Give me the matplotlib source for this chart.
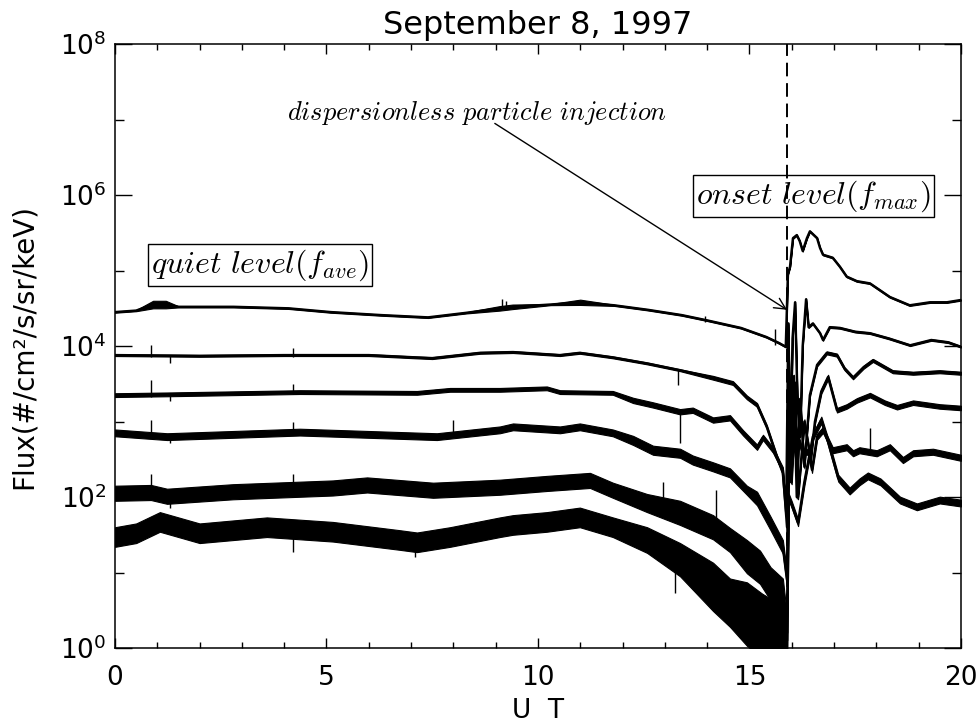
import numpy as np
import matplotlib.pyplot as plt
from matplotlib.ticker import FixedLocator, NullFormatter, FuncFormatter


OUTPUT_FILE = "out.png"

# UT hours and log10(flux) for the six energy channels, top to bottom
C1_UT = [0.0, 0.5, 0.9, 1.2, 1.5, 2.8, 4.1, 5.1, 6.3, 7.4, 8.3, 9.1, 9.4, 10.3, 11.0,
         11.8, 12.6, 13.4, 14.0, 14.8, 15.4, 15.7, 15.86, 15.91, 15.96, 16.03, 16.12,
         16.19, 16.26, 16.36, 16.43, 16.6, 16.67, 16.74, 16.97, 17.14, 17.3, 17.54,
         17.85, 18.32, 18.79, 19.27, 19.67, 20.0]
C1_LOG = [4.45, 4.47, 4.55, 4.55, 4.52, 4.52, 4.50, 4.45, 4.41, 4.38, 4.44, 4.50, 4.52,
          4.55, 4.58, 4.54, 4.48, 4.41, 4.34, 4.24, 4.12, 4.04, 3.99, 4.95, 5.05, 5.43,
          5.47, 5.39, 5.26, 5.43, 5.52, 5.43, 5.30, 5.21, 5.17, 5.05, 4.92, 4.86, 4.83,
          4.65, 4.54, 4.58, 4.58, 4.61]

C2_UT = [0.0, 2.0, 4.0, 6.0, 7.1, 7.5, 8.63, 9.41, 10.52, 10.99, 11.77, 12.58, 13.36,
         14.14, 14.61, 14.94, 15.18, 15.41, 15.65, 15.79, 15.87, 15.92, 15.97, 16.02,
         16.08, 16.14, 16.2, 16.26, 16.34, 16.40, 16.5, 16.67, 16.74, 16.9, 17.14, 17.5,
         17.85, 18.3, 18.8, 19.3, 19.7, 20.0]
C2_LOG = [3.88, 3.87, 3.88, 3.88, 3.85, 3.84, 3.91, 3.92, 3.88, 3.91, 3.85, 3.77, 3.68,
          3.58, 3.51, 3.32, 3.22, 2.93, 2.53, 2.32, 1.8, 4.3, 2.6, 4.1, 4.58, 3.2, 2.8,
          4.0, 4.62, 4.25, 4.3, 4.17, 4.08, 4.25, 4.24, 4.19, 4.17, 4.1, 4.01, 4.08,
          4.05, 3.99]

C3_UT = [0.0, 1.23, 4.37, 7.14, 7.92, 9.1, 10.21, 10.52, 11.77, 12.25, 12.72, 13.36,
         13.66, 14.14, 14.54, 14.85, 15.18, 15.32, 15.56, 15.79, 15.89, 15.93, 15.98,
         16.05, 16.12, 16.2, 16.3, 16.43, 16.6, 16.83, 17.07, 17.25, 17.45, 17.7, 17.92,
         18.39, 18.87, 19.5, 20.0]
C3_LOG = [3.35, 3.36, 3.39, 3.38, 3.42, 3.42, 3.44, 3.39, 3.38, 3.28, 3.22, 3.13, 3.15,
          3.02, 3.05, 2.85, 2.66, 2.79, 2.62, 2.36, 1.6, 3.8, 2.2, 3.6, 2.0, 3.3, 2.4,
          3.35, 3.75, 3.91, 3.88, 3.7, 3.58, 3.72, 3.81, 3.66, 3.64, 3.66, 3.64]

C4_UT = [0.0, 1.23, 4.37, 7.61, 9.1, 9.41, 10.52, 10.99, 11.77, 12.25, 12.72, 13.36,
         13.66, 14.14, 14.54, 14.94, 15.18, 15.5, 15.79, 15.89, 15.93, 16.0, 16.08,
         16.15, 16.3, 16.45, 16.55, 16.7, 16.86, 17.07, 17.3, 17.54, 17.85, 18.2, 18.49,
         18.87, 19.5, 20.0]
C4_LOG = [2.85, 2.80, 2.86, 2.80, 2.89, 2.93, 2.89, 2.93, 2.85, 2.75, 2.62, 2.58, 2.49,
          2.40, 2.32, 2.09, 1.98, 1.65, 1.34, 0.9, 3.3, 2.2, 3.5, 2.0, 3.0, 2.5, 3.0,
          3.4, 3.59, 3.15, 3.2, 3.28, 3.35, 3.25, 3.19, 3.25, 3.2, 3.18]

C5_UT = [0.0, 0.85, 1.23, 2.79, 5.15, 5.96, 7.52, 9.1, 10.21, 11.23, 11.77, 12.58,
         13.36, 14.14, 14.54, 14.94, 15.25, 15.5, 15.79, 15.89, 15.93, 16.0, 16.1,
         16.25, 16.4, 16.48, 16.6, 16.74, 16.97, 17.3, 17.45, 17.6, 18.01, 18.32, 18.63,
         18.87, 19.34, 20.0]
C5_LOG = [2.05, 2.06, 2.01, 2.07, 2.12, 2.16, 2.09, 2.13, 2.18, 2.22, 2.09, 1.92, 1.79,
          1.6, 1.43, 1.21, 1.07, 0.85, 0.7, 0.2, 2.6, 2.4, 2.9, 2.6, 2.6, 2.36, 2.8,
          2.89, 2.62, 2.66, 2.58, 2.62, 2.58, 2.66, 2.49, 2.58, 2.6, 2.52]

C6_UT = [0.0, 0.5, 1.06, 2.0, 3.59, 5.15, 6.74, 7.14, 7.92, 9.1, 9.41, 10.21, 10.99,
         11.77, 12.58, 13.36, 14.14, 14.54, 14.94, 15.3, 15.6, 15.89, 15.93, 16.0,
         16.15, 16.3, 16.5, 16.7, 16.85, 17.1, 17.37, 17.6, 17.8, 18.1, 18.56, 18.96,
         19.5, 20.0]
C6_LOG = [1.47, 1.52, 1.67, 1.52, 1.6, 1.54, 1.43, 1.40, 1.47, 1.6, 1.63, 1.67, 1.73,
          1.6, 1.43, 1.17, 0.81, 0.6, 0.45, 0.3, 0.2, 0.1, 2.0, 1.9, 1.66, 2.2, 2.8,
          3.02, 2.75, 2.25, 2.08, 2.2, 2.28, 2.2, 1.96, 1.87, 1.96, 1.92]

# count-noise spread (decades) as steps: (start UT, half width)
C1_NOISE = [(0.0, 0.008), (0.7, 0.05), (1.4, 0.008), (9.0, 0.03), (9.5, 0.008),
            (10.7, 0.035), (11.3, 0.008)]
C2_NOISE = [(0.0, 0.012), (14.0, 0.025), (15.9, 0.01)]
C3_NOISE = [(0.0, 0.025), (12.0, 0.035), (15.9, 0.02)]
C4_NOISE = [(0.0, 0.045), (12.0, 0.06), (15.0, 0.09), (15.9, 0.03)]
C5_NOISE = [(0.0, 0.1), (12.5, 0.12), (13.3, 0.16), (14.9, 0.22), (15.9, 0.04)]
C6_NOISE = [(0.0, 0.13), (12.5, 0.17), (13.3, 0.22), (14.1, 0.32), (14.9, 0.42),
            (15.9, 0.045)]

# isolated spikes: (UT, low log10, high log10)
C1_SPIKES = [(9.15, 4.50, 4.62), (9.25, 4.50, 4.60), (13.95, 4.32, 4.40), (15.6, 4.02, 4.22)]
C2_SPIKES = [(0.85, 3.86, 4.02), (1.3, 3.78, 3.88), (4.2, 3.86, 3.98), (13.3, 3.48, 3.68)]
C3_SPIKES = [(0.85, 3.33, 3.55), (1.3, 3.27, 3.36), (4.2, 3.37, 3.50), (13.36, 2.72, 3.13)]
C4_SPIKES = [(0.85, 2.82, 3.02), (1.3, 2.72, 2.80), (4.2, 2.84, 3.00), (8.0, 2.80, 3.02)]
C5_SPIKES = [(0.85, 2.00, 2.30), (1.3, 1.85, 2.00), (4.2, 2.10, 2.30), (12.95, 1.85, 2.20),
             (14.2, 1.55, 2.09), (17.85, 2.60, 2.92)]
C6_SPIKES = [(4.2, 1.27, 1.55), (7.1, 1.20, 1.40), (13.25, 0.73, 1.25)]

ONSET_UT = 15.89


def noise_at(ut, steps):
    starts = np.array([s[0] for s in steps])
    widths = np.array([s[1] for s in steps])
    idx = np.searchsorted(starts, ut, side="right") - 1
    return widths[idx]


def draw_channel(ax, ut, logf, steps, spikes):
    ut = np.array(ut)
    logf = np.array(logf)
    hw = noise_at(ut, steps)
    ax.fill_between(ut, 10 ** (logf - hw), 10 ** (logf + hw), color="k", lw=0.8,
                    edgecolor="k", zorder=2)
    ax.plot(ut, 10 ** logf, color="k", lw=1.8, zorder=2)
    for x, lo, hi in spikes:
        ax.vlines(x, 10 ** lo, 10 ** hi, color="k", lw=1.0, zorder=2)


def main():
    plt.rcParams["font.family"] = "DejaVu Sans"
    plt.rcParams["mathtext.fontset"] = "cm"

    fig = plt.figure(figsize=(9.79, 7.24), dpi=100)
    ax = fig.add_axes([0.1175, 0.105, 0.864, 0.834])

    channels = [
        (C1_UT, C1_LOG, C1_NOISE, C1_SPIKES),
        (C2_UT, C2_LOG, C2_NOISE, C2_SPIKES),
        (C3_UT, C3_LOG, C3_NOISE, C3_SPIKES),
        (C4_UT, C4_LOG, C4_NOISE, C4_SPIKES),
        (C5_UT, C5_LOG, C5_NOISE, C5_SPIKES),
        (C6_UT, C6_LOG, C6_NOISE, C6_SPIKES),
    ]
    for ut, logf, steps, spikes in channels:
        draw_channel(ax, ut, logf, steps, spikes)

    ax.axvline(ONSET_UT, color="k", lw=1.4, ls=(0, (7, 3.5)), zorder=4)

    ax.set_yscale("log")
    ax.set_xlim(0, 20)
    ax.set_ylim(1, 1e8)

    ax.xaxis.set_major_locator(FixedLocator([0, 5, 10, 15, 20]))
    ax.xaxis.set_minor_locator(FixedLocator(list(range(21))))
    ax.yaxis.set_major_locator(FixedLocator([1e0, 1e2, 1e4, 1e6, 1e8]))
    ax.yaxis.set_minor_locator(FixedLocator([1e1, 1e3, 1e5, 1e7]))
    ax.yaxis.set_minor_formatter(NullFormatter())
    ax.yaxis.set_major_formatter(
        FuncFormatter(lambda v, p: r"$\mathdefault{10^{%d}}$" % round(np.log10(v))))
    ax.xaxis.set_major_formatter(FuncFormatter(lambda v, p: "%d" % v))

    ax.tick_params(which="both", direction="in", top=True, right=True, width=1,
                   labelsize=19)
    ax.tick_params(axis="x", which="major", length=7, pad=12)
    ax.tick_params(axis="x", which="minor", length=4)
    ax.tick_params(axis="y", which="major", length=12, pad=6)
    ax.tick_params(axis="y", which="minor", length=6.5)
    for s in ax.spines.values():
        s.set_linewidth(1.1)

    ax.set_xlabel("U  T", fontsize=19, labelpad=5)
    ax.set_ylabel("Flux(#/cm²/s/sr/keV)", fontsize=20, labelpad=16)
    ax.set_title("September 8, 1997", fontsize=23, pad=7)

    box = dict(boxstyle="square,pad=0.1", fc="white", ec="k", lw=1)
    ax.text(3.43, 10 ** 5.07, r"$quiet\ level(f_{ave})$", fontsize=23,
            ha="center", va="center", bbox=box, zorder=3)
    ax.text(16.52, 10 ** 5.99, r"$onset\ level(f_{max})$", fontsize=23,
            ha="center", va="center", bbox=box, zorder=3)

    ax.text(8.56, 10 ** 7.09, r"$dispersionless\ particle\ injection$", fontsize=19,
            ha="center", va="center")
    ax.annotate("", xy=(ONSET_UT, 10 ** 4.48), xytext=(8.98, 10 ** 6.95),
                arrowprops=dict(arrowstyle="->", lw=1.0, color="k",
                                mutation_scale=20, shrinkA=0, shrinkB=0))

    fig.savefig(OUTPUT_FILE, dpi=100)
    plt.close(fig)


if __name__ == "__main__":
    main()
